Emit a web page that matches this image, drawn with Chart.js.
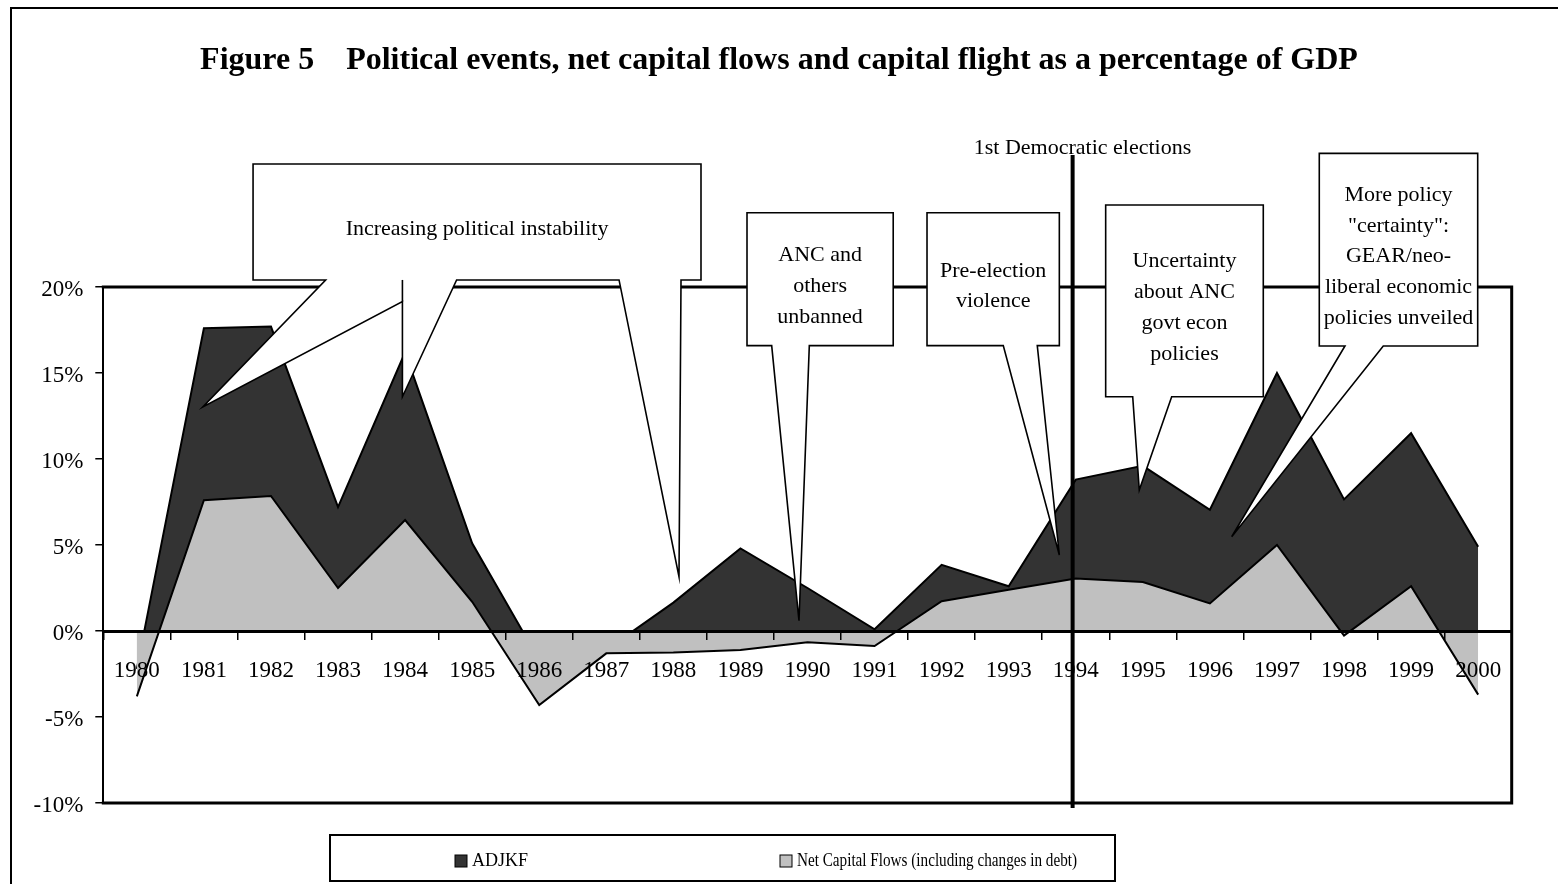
<!DOCTYPE html>
<html>
<head>
<meta charset="utf-8">
<script src="https://cdn.jsdelivr.net/npm/chart.js@4.4.1/dist/chart.umd.min.js"></script>
<style>
html,body{margin:0;padding:0;background:#fff;overflow:hidden}
#wrap{width:1558px;height:884px;position:relative}
</style>
</head>
<body>
<div id="wrap"><canvas id="c"></canvas></div>
<script>
// ---- data ----
const years = ['1980','1981','1982','1983','1984','1985','1986','1987','1988','1989','1990',
               '1991','1992','1993','1994','1995','1996','1997','1998','1999','2000'];
const adjkf    = [-2.2, 17.6, 17.7, 7.2, 16.2, 5.1, -1.7, -1.1, 1.65, 4.8, 2.5,
                  0.1, 3.85, 2.6, 8.8, 9.6, 7.05, 15.0, 7.65, 11.5, 4.9];
const netFlows = [-3.8, 7.6, 7.85, 2.5, 6.45, 1.7, -4.3, -1.3, -1.25, -1.1, -0.65,
                  -0.87, 1.73, 2.4, 3.05, 2.85, 1.6, 5.0, -0.27, 2.6, -3.7];
const yTickValues = [-10, -5, 0, 5, 10, 15, 20];
const yTickLabels = ['-10%', '-5%', '0%', '5%', '10%', '15%', '20%'];
const seriesNames = ['ADJKF', 'Net Capital Flows (including changes in debt)'];
const titleText = 'Figure 5    Political events, net capital flows and capital flight as a percentage of GDP';
const electionLabel = '1st Democratic elections';

// callouts: box [xFrom, xTo, yTop, yBottom] and tail points along the bottom edge, left to right
// (x in category index units, y in percent, converted through the chart scales)
const callouts = [
  {lines: ['Increasing political instability'], box: [1.733, 8.412, 27.15, 20.41],
   tail: [[2.815,20.41],[0.983,13.02],[3.960,19.15],[3.960,13.62],[4.768,20.41],[7.190,20.41],[8.084,3.16],[8.114,20.41]],
   extra: [[3.960,20.41],[3.960,19.15]]},
  {lines: ['ANC and','others','unbanned'], box: [9.098, 11.278, 24.32, 16.59],
   tail: [[9.466,16.59],[9.873,0.60],[10.027,16.59]]},
  {lines: ['Pre-election','violence'], box: [11.782, 13.755, 24.32, 16.59],
   tail: [[12.919,16.59],[13.755,4.42],[13.426,16.59]]},
  {lines: ['Uncertainty','about ANC','govt econ','policies'], box: [14.446, 16.796, 24.77, 13.62],
   tail: [[14.849,13.62],[14.947,8.20],[15.430,13.62]]},
  {lines: ['More policy','"certainty":','GEAR/neo-','liberal economic','policies unveiled'], box: [17.631, 19.993, 27.77, 16.57],
   tail: [[18.014,16.57],[16.325,5.48],[18.585,16.57]]}
];
const election = {x: 13.953, yTop: 27.67, yBottom: -10.29, labelX: 14.10, labelY: 28.06};

const SERIF = "'Liberation Serif', 'Times New Roman', serif";
Chart.defaults.font.family = SERIF;
Chart.defaults.color = '#000';

const decor = {
  id: 'decor',
  beforeDraw(chart) {
    const ctx = chart.ctx;
    ctx.save();
    ctx.fillStyle = '#fff';
    ctx.fillRect(0, 0, chart.width, chart.height);
    ctx.strokeStyle = '#000';
    ctx.lineWidth = 2;
    ctx.strokeRect(11, 8, chart.width + 40, chart.height + 40);
    ctx.restore();
  },
  afterDraw(chart) {
    const ctx = chart.ctx;
    const a = chart.chartArea;
    const xs = chart.scales.x, ys = chart.scales.y;
    const px = v => xs.getPixelForValue(v);
    const py = v => ys.getPixelForValue(v);
    ctx.save();
    // plot frame (top, right, bottom)
    ctx.strokeStyle = '#000';
    ctx.lineWidth = 3;
    ctx.lineCap = 'square';
    ctx.beginPath();
    ctx.moveTo(a.left, a.top);
    ctx.lineTo(a.right, a.top);
    ctx.lineTo(a.right, a.bottom);
    ctx.lineTo(a.left, a.bottom);
    ctx.stroke();

    // election line
    ctx.lineWidth = 4;
    ctx.lineCap = 'butt';
    ctx.beginPath();
    ctx.moveTo(px(election.x), py(election.yTop));
    ctx.lineTo(px(election.x), py(election.yBottom));
    ctx.stroke();
    ctx.font = '22px ' + SERIF;
    ctx.fillStyle = '#000';
    ctx.textAlign = 'center';
    ctx.textBaseline = 'middle';
    ctx.fillText(electionLabel, px(election.labelX), py(election.labelY));

    // callouts
    callouts.forEach(c => {
      const L = px(c.box[0]), R = px(c.box[1]), T = py(c.box[2]), B = py(c.box[3]);
      ctx.beginPath();
      ctx.moveTo(L, T);
      ctx.lineTo(R, T);
      ctx.lineTo(R, B);
      for (let i = c.tail.length - 1; i >= 0; i--) {
        ctx.lineTo(px(c.tail[i][0]), py(c.tail[i][1]));
      }
      ctx.lineTo(L, B);
      ctx.closePath();
      ctx.fillStyle = '#fff';
      ctx.fill();
      ctx.lineWidth = 1.6;
      ctx.lineJoin = 'miter';
      ctx.strokeStyle = '#000';
      ctx.stroke();
      if (c.extra) {
        ctx.beginPath();
        ctx.moveTo(px(c.extra[0][0]), py(c.extra[0][1]));
        ctx.lineTo(px(c.extra[1][0]), py(c.extra[1][1]));
        ctx.stroke();
      }
      ctx.fillStyle = '#000';
      ctx.font = '22px ' + SERIF;
      ctx.textAlign = 'center';
      ctx.textBaseline = 'middle';
      const lh = 30.8;
      const cx = (L + R) / 2;
      const cy = (T + B) / 2 + 7;
      const y0 = cy - (c.lines.length - 1) * lh / 2;
      c.lines.forEach((t, i) => ctx.fillText(t, cx, y0 + i * lh));
    });

    // legend
    const ds = chart.data.datasets;
    ctx.font = '18px ' + SERIF;
    const itemX = [455, 780];
    const itemW = [60, 280];
    const cyL = 861;
    const sq = 12;
    ds.forEach((d, i) => {
      const x0 = itemX[i];
      ctx.fillStyle = d.backgroundColor;
      ctx.fillRect(x0, cyL - sq / 2, sq, sq);
      ctx.lineWidth = 1;
      ctx.strokeStyle = '#000';
      ctx.strokeRect(x0, cyL - sq / 2, sq, sq);
      ctx.fillStyle = '#000';
      ctx.textAlign = 'left';
      ctx.textBaseline = 'middle';
      ctx.fillText(d.label, x0 + sq + 5, cyL, itemW[i]);
    });
    ctx.lineWidth = 2;
    ctx.strokeStyle = '#000';
    ctx.strokeRect(330, 835, 785, 46);
    ctx.restore();
  }
};

new Chart(document.getElementById('c'), {
  type: 'line',
  data: {
    labels: years,
    datasets: [
      {label: seriesNames[0], data: adjkf, fill: 'origin', backgroundColor: '#333333',
       borderColor: '#000', borderWidth: 2, pointRadius: 0, tension: 0, order: 2},
      {label: seriesNames[1], data: netFlows, fill: 'origin', backgroundColor: '#c0c0c0',
       borderColor: '#000', borderWidth: 2, pointRadius: 0, tension: 0, order: 1}
    ]
  },
  options: {
    responsive: true,
    maintainAspectRatio: false,
    animation: false,
    events: [],
    layout: {padding: {top: 0, left: 0, right: 0, bottom: 81}},
    plugins: {
      legend: {display: false},
      tooltip: {enabled: false},
      title: {
        display: true,
        text: titleText,
        color: '#000',
        font: {family: SERIF, size: 32, weight: 'bold'},
        padding: {top: 42, bottom: 206.6}
      }
    },
    scales: {
      x: {
        type: 'category',
        offset: true,
        position: {y: 0},
        grid: {display: true, drawOnChartArea: false, drawTicks: true, tickLength: 7,
               color: '#000', lineWidth: 1.5, offset: true, z: 1},
        border: {display: true, color: '#000', width: 3, z: 1},
        ticks: {color: '#000', font: {family: SERIF, size: 23}, padding: 19,
                maxRotation: 0, autoSkip: false, z: 1},
        afterFit: s => { s.height = 0; }
      },
      y: {
        type: 'linear',
        position: 'left',
        min: -10, max: 20,
        afterBuildTicks: s => { s.ticks = yTickValues.map(v => ({value: v})); },
        ticks: {color: '#000', font: {family: SERIF, size: 23}, padding: 12, labelOffset: 3,
                callback: v => yTickLabels[yTickValues.indexOf(v)]},
        grid: {display: true, drawOnChartArea: false, drawTicks: true, tickLength: 8,
               color: '#000', lineWidth: 1.5},
        border: {display: true, color: '#000', width: 2},
        afterFit: s => { s.width = 103.3; }
      },
      yRight: {
        type: 'linear',
        position: 'right',
        display: true,
        grid: {display: false},
        border: {display: false},
        ticks: {display: false},
        afterFit: s => { s.width = 46.3; }
      }
    }
  },
  plugins: [decor]
});
</script>
</body>
</html>
